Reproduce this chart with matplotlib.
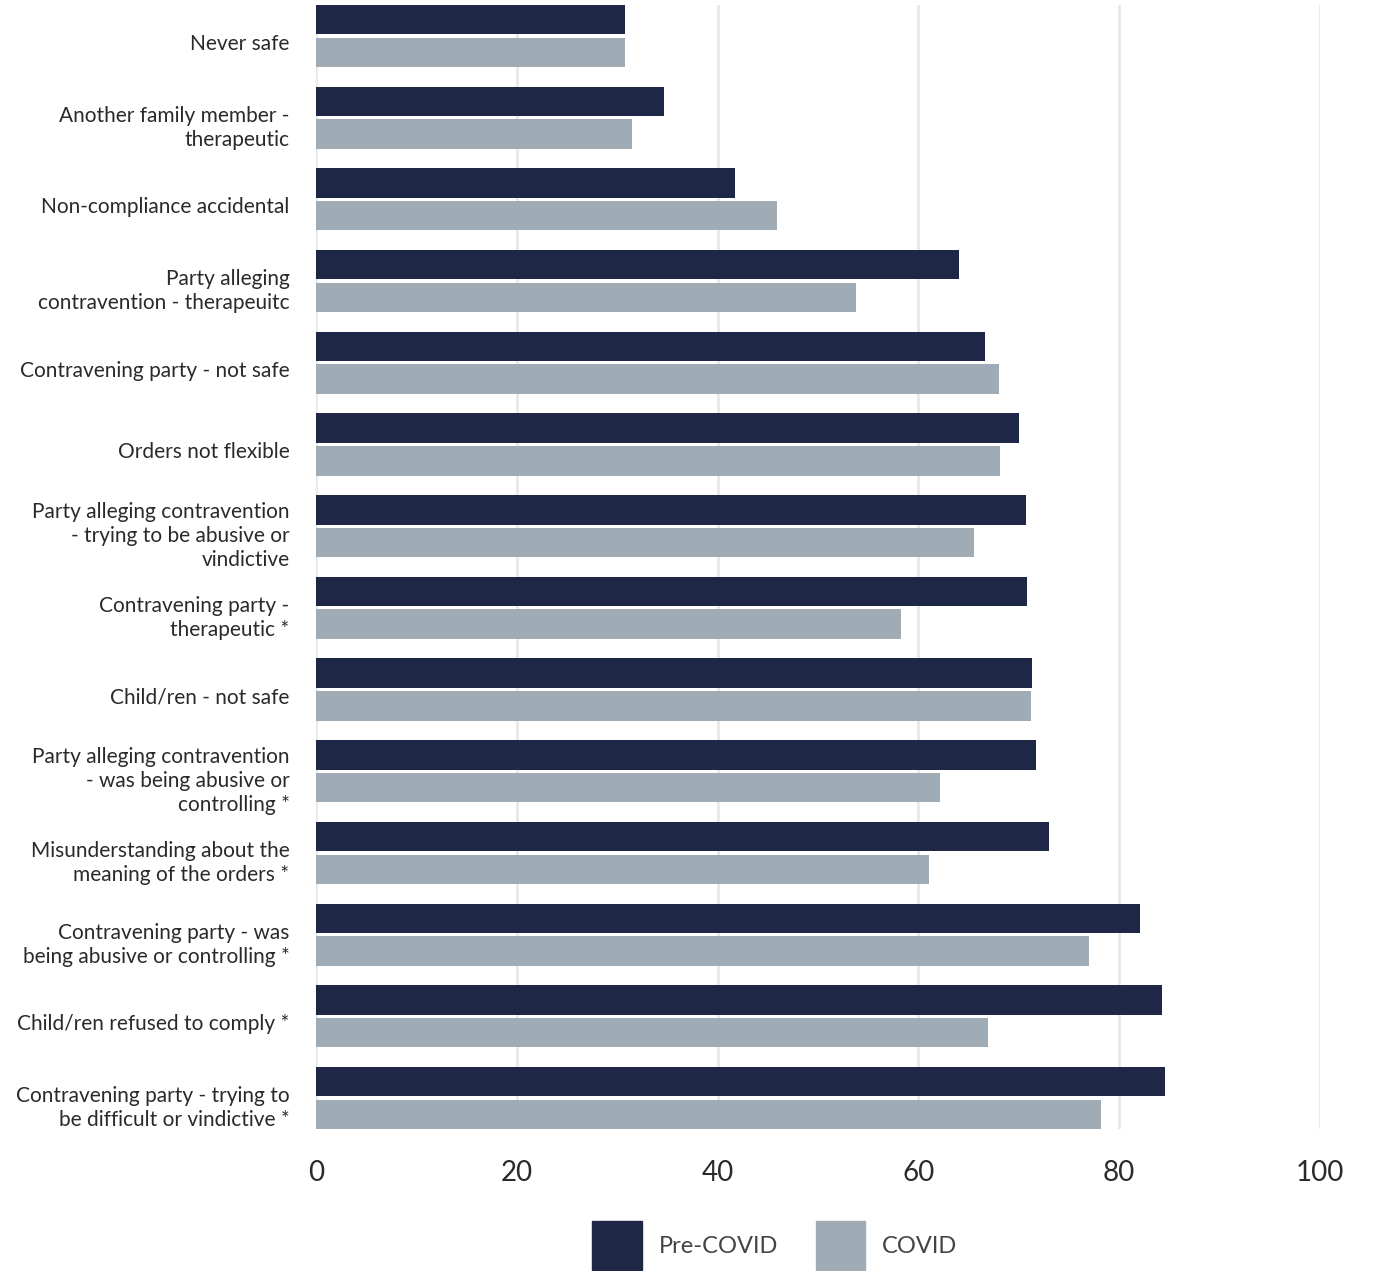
import matplotlib
matplotlib.use("Agg")
import matplotlib.pyplot as plt
import matplotlib.transforms as mtransforms
from matplotlib.patches import Patch
import numpy as np

categories = [
    "Never safe",
    "Another family member -\ntherapeutic",
    "Non-compliance accidental",
    "Party alleging\ncontravention - therapeuitc",
    "Contravening party - not safe",
    "Orders not flexible",
    "Party alleging contravention\n- trying to be abusive or\nvindictive",
    "Contravening party -\ntherapeutic *",
    "Child/ren - not safe",
    "Party alleging contravention\n- was being abusive or\ncontrolling *",
    "Misunderstanding about the\nmeaning of the orders *",
    "Contravening party - was\nbeing abusive or controlling *",
    "Child/ren refused to comply *",
    "Contravening party - trying to\nbe difficult or vindictive *",
]
pre_covid = [30.8, 34.7, 41.7, 64.0, 66.6, 70.0, 70.7, 70.8, 71.3, 71.7, 73.0, 82.1, 84.3, 84.6]
covid = [30.8, 31.5, 45.9, 53.8, 68.0, 68.1, 65.5, 58.3, 71.2, 62.2, 61.1, 77.0, 66.9, 78.2]
xticks = [0, 20, 40, 60, 80, 100]

navy = "#1f2746"
grey = "#a0acb5"

plt.rcParams["font.family"] = ["Lato", "DejaVu Sans"]

fig = plt.figure(figsize=(13.76, 12.71), dpi=100)
ax = fig.add_axes([316/1376, 1 - 1129/1271, (1320-316)/1376, (1129-5)/1271])

y = np.arange(len(categories))
h = 0.36
ax.barh(y - 0.2, pre_covid, height=h, color=navy, zorder=3)
ax.barh(y + 0.2, covid, height=h, color=grey, zorder=3)

ax.set_xlim(0, 100)
ax.set_ylim(len(categories) - 1 + 0.38, -0.38)
ax.set_xticks(xticks)
ax.set_xticklabels([str(t) for t in xticks], fontsize=20, color="#2a2a2a")
ax.set_yticks(y)
ax.set_yticklabels(categories, fontsize=15, color="#2a2a2a", linespacing=1.25)
ax.tick_params(axis="x", length=0, pad=22)
ax.tick_params(axis="y", length=0, pad=19)
ax.grid(axis="x", color="#e8e8e8", linewidth=2, zorder=0)
for s in ax.spines.values():
    s.set_visible(False)

# shift labels a little down like the original
off = mtransforms.ScaledTranslation(0, -6/100, fig.dpi_scale_trans)
for lbl in ax.get_yticklabels():
    lbl.set_transform(lbl.get_transform() + off)

handles = [Patch(facecolor=navy, edgecolor=navy), Patch(facecolor=grey, edgecolor=grey)]
fig.legend(handles, ["Pre-COVID", "COVID"], loc="center", bbox_to_anchor=(0.563, 0.02),
           ncol=2, frameon=False, fontsize=17, handlelength=2.1, handleheight=2.8,
           handletextpad=0.7, columnspacing=1.6, labelcolor="#444444")

fig.savefig("out.png", dpi=100)
